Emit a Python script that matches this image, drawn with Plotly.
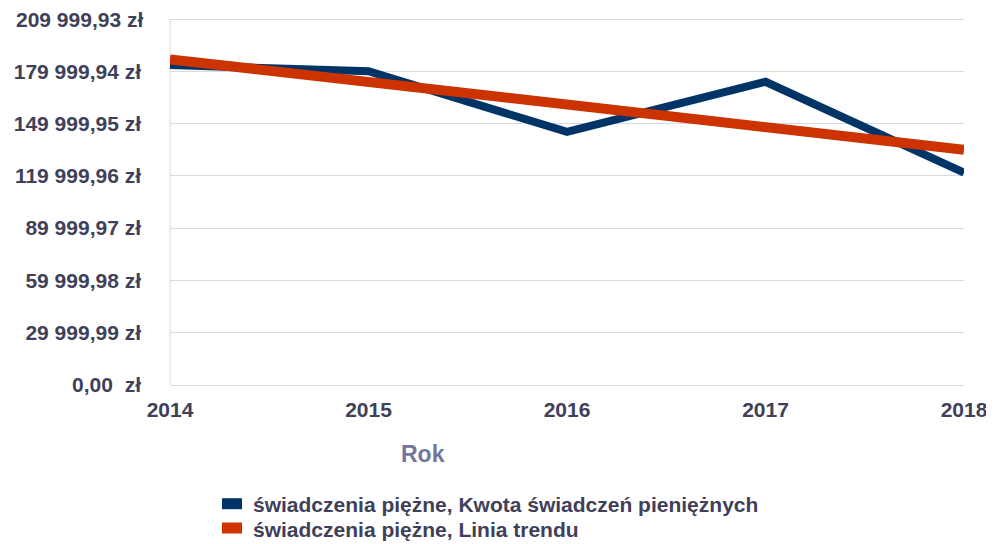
import numpy as np
import plotly.graph_objects as go

years = [2014, 2015, 2016, 2017, 2018]
kwota = [183600, 180000, 145200, 174000, 121800]
series_name = "świadczenia piężne, Kwota świadczeń pieniężnych"
trend_name = "świadczenia piężne, Linia trendu"
tick_step = 29999.99
tick_vals = [round(k * tick_step, 2) for k in range(8)]


def fmt(v):
    s = f"{v:,.2f}".replace(",", " ").replace(".", ",")
    return s + " zł"


tick_text = [fmt(v) for v in tick_vals]
tick_text[0] = "0,00  zł"

coef = np.polyfit(years, kwota, 1)
trend = list(np.polyval(coef, years))

BLUE = "#003366"
ORANGE = "#cc3300"
TXT = "#3f4059"
GRID = "#d9d9e6"
FONT = "Liberation Sans, Arial, sans-serif"
STANDOFF = 28

# page offset from the default body margin
OFF = 8
FIG_W, FIG_H = 994 - OFF, 544 - OFF
# plot area in page pixels (top extended 3 px above the last gridline at y=19)
L, R, T, B = 170, 964, 16, 385
W_, H_ = R - L, B - T
Y_TOP = tick_vals[-1] * (B - T) / (B - 19)


def px(x):
    return (x - L) / W_


def py(y):
    return (B - y) / H_


fig = go.Figure()
fig.add_trace(go.Scatter(x=years, y=kwota, mode="lines", line=dict(color=BLUE, width=8),
                         name=series_name, showlegend=False, hoverinfo="skip"))
fig.add_trace(go.Scatter(x=years, y=trend, mode="lines", line=dict(color=ORANGE, width=10),
                         name=trend_name, showlegend=False, hoverinfo="skip"))

shapes = []
annotations = []
for i, (name, col) in enumerate([(series_name, BLUE), (trend_name, ORANGE)]):
    cy = 503.7 + i * 24.3
    shapes.append(dict(type="rect", xref="paper", yref="paper",
                       x0=px(222), x1=px(242), y0=py(cy - 5.5), y1=py(cy + 5.5),
                       fillcolor=col, line=dict(width=0)))
    annotations.append(dict(text=name, x=px(251), y=py(cy + 1), xref="paper", yref="paper",
                            xanchor="left", yanchor="middle", showarrow=False,
                            font=dict(family=FONT, size=21, color=TXT, weight="bold")))
annotations.append(dict(text="Rok", x=px(423), y=py(454), xref="paper", yref="paper",
                        xanchor="center", yanchor="middle", showarrow=False,
                        font=dict(family=FONT, size=23, color="#74749e", weight="bold")))
# top tick label (would be hidden by plotly as it touches the figure edge)
annotations.append(dict(text=tick_text[-1], x=0, xref="paper", y=tick_vals[-1], yref="y",
                        xanchor="right", yanchor="middle", showarrow=False,
                        xshift=-(STANDOFF - 2), yshift=0, borderpad=0,
                        font=dict(family=FONT, size=21, color=TXT, weight="bold")))
tick_text_axis = tick_text[:-1] + [""]

fig.update_layout(
    width=FIG_W, height=FIG_H,
    margin=dict(l=L - OFF, r=FIG_W - (R - OFF), t=T - OFF, b=FIG_H - (B - OFF), pad=0),
    paper_bgcolor="white", plot_bgcolor="white",
    font=dict(family=FONT, color=TXT, size=20, weight="bold"),
    showlegend=False,
    xaxis=dict(range=[2014, 2018], tickmode="array", tickvals=years,
               ticktext=[str(y) for y in years], showgrid=False, zeroline=False,
               showline=False, ticks="", ticklabelstandoff=10, automargin=False,
               tickfont=dict(family=FONT, size=21, color=TXT, weight="bold")),
    yaxis=dict(range=[0, Y_TOP], tickmode="array", tickvals=tick_vals,
               ticktext=tick_text_axis,
               showgrid=True, gridcolor=GRID, gridwidth=1, zeroline=True, zerolinecolor=GRID,
               zerolinewidth=1, showline=False, ticks="",
               ticklabelstandoff=STANDOFF, automargin=False,
               tickfont=dict(family=FONT, size=21, color=TXT, weight="bold")),
    shapes=shapes + [dict(type="line", xref="paper", yref="paper", x0=0, x1=0,
                          y0=0, y1=py(19), line=dict(color=GRID, width=1), layer="below")],
    annotations=annotations,
)

fig.write_html("out.html")
